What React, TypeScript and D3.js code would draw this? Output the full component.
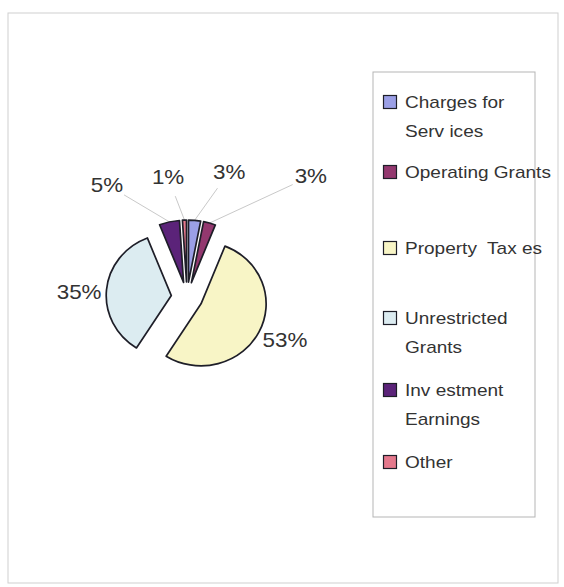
import * as d3 from "d3";

const categories = [
  "Charges for Services",
  "Operating Grants",
  "Property Taxes",
  "Unrestricted Grants",
  "Investment Earnings",
  "Other",
];
const legendLines = [
  ["Charges for", "Serv ices"],
  ["Operating Grants"],
  ["Property  Tax es"],
  ["Unrestricted", "Grants"],
  ["Inv estment", "Earnings"],
  ["Other"],
];
const values = [3, 3, 53, 35, 5, 1];
const colors = ["#9b9fe6", "#93386f", "#f8f5c6", "#dcecf1", "#5b2379", "#e4788c"];

const W = 564;
const H = 587;
const cx = 187;
const cy = 297;
const r = 62;
const sx = 1.05; // the scan is slightly wider than tall
const explode = 15;
const textStretch = 1.12;

// label placement around the pie: [angle from top clockwise, distance]
const labelPolar: [number, number][] = [
  [18.6, 132],
  [45.7, 173],
  [113.7, 107],
  [272.7, 108],
  [324.5, 138],
  [351, 121],
];

const polar = (deg: number, dist: number): [number, number] => {
  const a = (deg * Math.PI) / 180;
  return [Math.sin(a) * dist, -Math.cos(a) * dist];
};

const App = () => {
  const pie = d3
    .pie<number>()
    .value((d) => d)
    .sort(null);
  const arcs = pie(values);
  const arc = d3.arc<d3.PieArcDatum<number>>().innerRadius(0).outerRadius(r);

  const legendY = [102, 172, 248, 318, 390, 462];
  const lineGap = 28.5;

  return (
    <svg
      width={W}
      height={H}
      style={{ position: "absolute", left: 0, top: 0, background: "#fff" }}
      fontFamily="'Liberation Sans', Arial, sans-serif"
    >
      <rect x={8} y={13} width={550} height={570} fill="#fff" stroke="#cfcfcf" strokeWidth={1} />

      {/* leader lines */}
      {arcs.map((a, i) => {
        if (values[i] >= 10) return null;
        const mid = (((a.startAngle + a.endAngle) / 2) * 180) / Math.PI;
        const [ox, oy] = polar(mid, explode + r);
        const ex = cx + ox * sx;
        const ey = cy + oy;
        const [lx0, ly0] = polar(labelPolar[i][0], labelPolar[i][1]);
        const lx = cx + lx0;
        const ly = cy + ly0;
        const len = Math.hypot(ex - lx, ey - ly);
        const k = 20 / len;
        return (
          <line
            key={"l" + i}
            x1={lx + (ex - lx) * k}
            y1={ly + (ey - ly) * k}
            x2={ex}
            y2={ey}
            stroke="#c9c9c9"
            strokeWidth={1}
          />
        );
      })}

      <g transform={`translate(${cx},${cy}) scale(${sx},1)`}>
        {arcs.map((a, i) => {
          const mid = (a.startAngle + a.endAngle) / 2;
          const dx = Math.sin(mid) * explode;
          const dy = -Math.cos(mid) * explode;
          return (
            <path
              key={categories[i]}
              d={arc(a) || ""}
              transform={`translate(${dx},${dy})`}
              fill={colors[i]}
              stroke="#1e1e28"
              strokeWidth={1.7}
              strokeLinejoin="round"
              vectorEffect="non-scaling-stroke"
            />
          );
        })}
      </g>

      {values.map((v, i) => {
        const [lx, ly] = polar(labelPolar[i][0], labelPolar[i][1]);
        return (
          <text
            key={"t" + i}
            transform={`translate(${cx + lx},${cy + ly + 7}) scale(${textStretch},1)`}
            textAnchor="middle"
            fontSize={20}
            fill="#333"
          >
            {v + "%"}
          </text>
        );
      })}

      {/* legend */}
      <rect x={373} y={72} width={162} height={445} fill="#fff" stroke="#b5b5b5" strokeWidth={1} />
      {categories.map((c, i) => (
        <g key={"g" + c}>
          <rect
            x={383.5}
            y={legendY[i] - 6.5}
            width={13}
            height={13}
            fill={colors[i]}
            stroke="#1e1e28"
            strokeWidth={1.2}
          />
          {legendLines[i].map((t, j) => (
            <text
              key={t}
              transform={`translate(${405},${legendY[i] + 6 + j * lineGap}) scale(${textStretch},1)`}
              fontSize={17}
              fill="#333"
              style={{ whiteSpace: "pre" }}
            >
              {t}
            </text>
          ))}
        </g>
      ))}
    </svg>
  );
};

export default App;
